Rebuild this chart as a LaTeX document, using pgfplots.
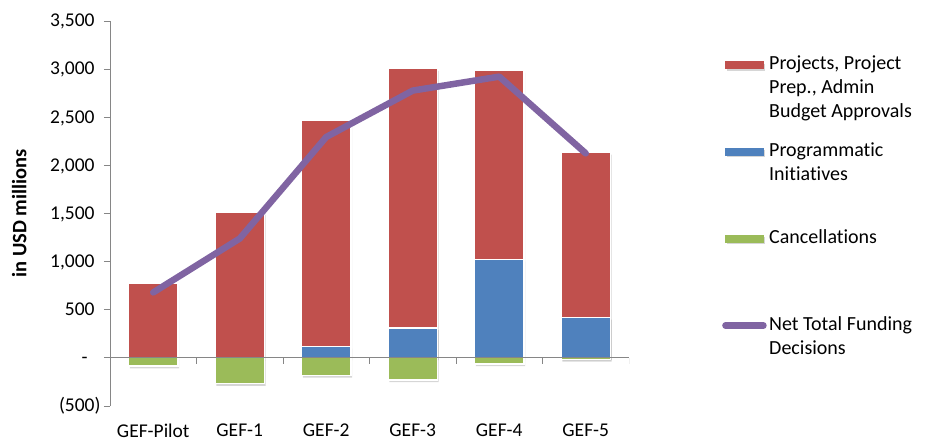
\documentclass[border=0pt]{standalone}
\usepackage{fontspec}
\setmainfont{Carlito}[Ligatures=NoCommon]
\usepackage{pgfplots}
\pgfplotsset{compat=1.18}

\definecolor{gefred}{HTML}{C0504D}
\definecolor{gefblue}{HTML}{4F81BD}
\definecolor{gefgreen}{HTML}{9BBB59}
\definecolor{gefpurple}{HTML}{8064A2}
\definecolor{axisgray}{HTML}{868686}

\newcommand\lbl{\fontsize{19.5bp}{24bp}\selectfont}
\newcommand\lgd{\fontsize{20bp}{24bp}\selectfont}
% legend text with a fixed depth so that the entries keep Excel's spacing
\newcommand\entry[2]{\parbox[t]{160bp}{\raggedright #2}\rule[-#1]{0pt}{1bp}}

\pgfplotsset{
  gefbar/.style={ybar, bar width=0.57, bar shift=0pt, fill=#1, draw=white, line width=1.2bp,
    preaction={draw=none, fill=black, opacity=0.16, transform canvas={xshift=1.2bp, yshift=-2.2bp}},
    legend image code/.code={\fill[#1] (0bp,1.5bp) rectangle (38bp,8.5bp);}},
}

\begin{document}
\begin{tikzpicture}
\begin{axis}[
  name=ax,
  scale only axis,
  width=519bp, height=385bp,
  xmin=-0.5, xmax=5.5,
  ymin=-500, ymax=3500,
  axis y line*=left,
  axis x line*=bottom,
  x axis line style={draw=none},
  y axis line style={axisgray, line width=0.8bp},
  tick align=outside,
  major tick length=6bp,
  ytick style={axisgray, line width=0.8bp},
  xtick style={draw=none},
  ytick={-500,0,500,1000,1500,2000,2500,3000,3500},
  yticklabels={{(500)},{-\hspace{7bp}\phantom{)}},{500\phantom{)}},{1,000\phantom{)}},{1,500\phantom{)}},{2,000\phantom{)}},{2,500\phantom{)}},{3,000\phantom{)}},{3,500\phantom{)}}},
  yticklabel style={font=\lbl, text=black},
  xtick={0,1,2,3,4,5},
  xticklabels={GEF-Pilot,GEF-1,GEF-2,GEF-3,GEF-4,GEF-5},
  xticklabel style={font=\lbl, text=black, yshift=-8bp},
  ylabel={in USD millions},
  ylabel style={font=\fontsize{20.5bp}{24bp}\selectfont\bfseries, at={(axis description cs:-0.175,0.5)}, anchor=center},
  legend style={at={(axis description cs:1,1)}, anchor=north west,
    xshift=93bp, yshift=-33bp, draw=none, fill=none, inner sep=0pt,
    row sep=0pt, font=\lgd, cells={anchor=base west},
    nodes={inner sep=2bp, text depth=, text height=}},
  /tikz/every odd column/.append style={column sep=0.5bp},
]

% totals of approvals (red), programmatic part (blue) drawn over, cancellations below zero
\addplot[gefbar=gefred]
  coordinates {(0,774) (1,1512) (2,2464) (3,3004) (4,2983) (5,2135)};
\addlegendentry{\entry{69bp}{Projects, Project\\Prep., Admin\\Budget Approvals}}

\addplot[gefbar=gefblue]
  coordinates {(0,0) (1,0) (2,119) (3,310) (4,1023) (5,421)};
\addlegendentry{\entry{69bp}{Programmatic\\Initiatives}}

\addplot[gefbar=gefgreen]
  coordinates {(0,-85) (1,-268) (2,-182) (3,-230) (4,-64) (5,-16)};
\addlegendentry{\entry{69bp}{Cancellations}}

\draw[axisgray, line width=0.8bp] (axis cs:-0.5,0) -- (axis cs:5.5,0);
\pgfplotsinvokeforeach{0.5,1.5,2.5,3.5,4.5,5.5}{
  \draw[axisgray, line width=0.8bp] (axis cs:#1,0) -- ++(0pt,-6bp);
}

\addplot[sharp plot, gefpurple, line width=6.5bp, line cap=round, line join=round, mark=none,
  legend image code/.code={\draw[gefpurple, line width=6.5bp, line cap=round] (0bp,5bp) -- (38bp,5bp);}]
  coordinates {(0,680) (1,1240) (2,2295) (3,2777) (4,2922) (5,2125)};
\addlegendentry{\entry{30bp}{Net Total Funding\\Decisions}}
\end{axis}
\pgfresetboundingbox
\path[use as bounding box] (ax.south west) ++(-110bp,-35bp) rectangle ++(931bp,441bp);
\end{tikzpicture}
\end{document}
